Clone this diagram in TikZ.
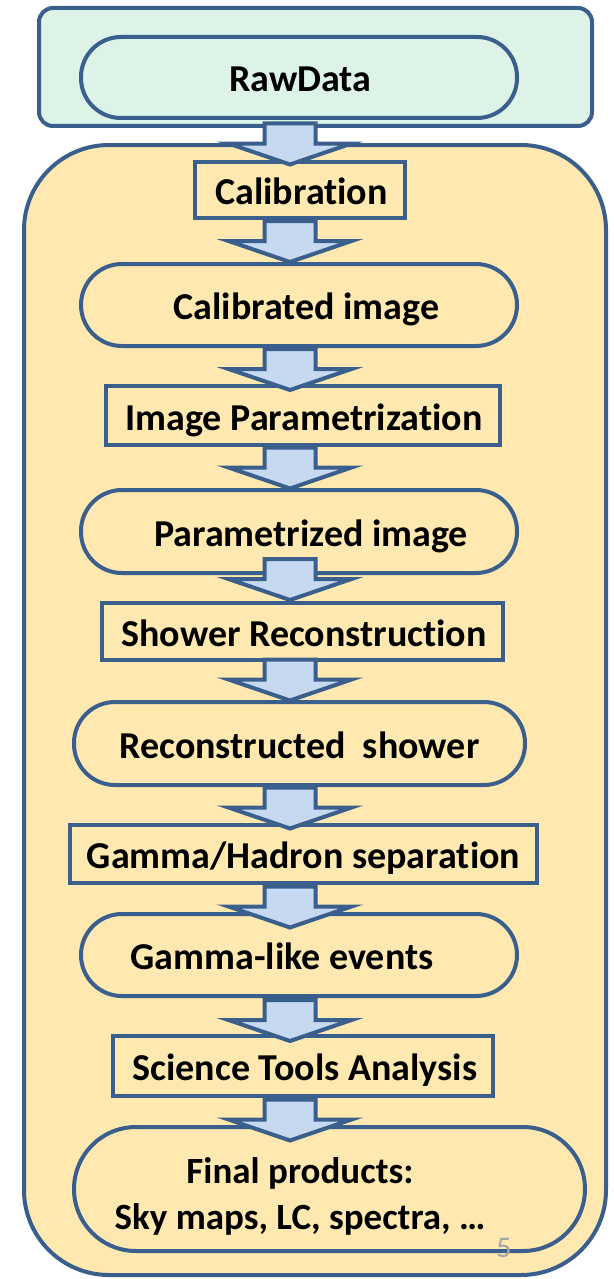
\documentclass[tikz,border=0pt]{standalone}
\usepackage{fontspec}
\setmainfont{Carlito}[Ligatures=NoCommon]
\usetikzlibrary{calc}

\definecolor{edge}{HTML}{3B5F8C}
\definecolor{stagefill}{HTML}{FFE9B0}
\definecolor{inputfill}{HTML}{DDF3E7}
\definecolor{arrowfill}{HTML}{C6D9F1}
\definecolor{pagegray}{HTML}{A6A6A6}

\tikzset{
  box/.style={draw=edge, line width=4pt, fill=stagefill, inner sep=0pt, rectangle},
  stepbox/.style={box},
  pill/.style={box, rounded corners=#1},
  lbl/.style={font=\bfseries\fontsize{38}{42}\selectfont, text=black, inner sep=0pt,
    text height=24pt, text depth=0pt, yshift=-2.5pt},
  flow/.style={draw=edge, line width=4pt, fill=arrowfill, line join=miter},
}

% x position of the block arrows
\def\arrx{290pt}
% block arrow between two stages; optional argument moves it down (in px)
\newcommand\flowarrow[3][0]{%
  \path[flow] let \p1=($(#2.south)!0.5!(#3.north)+(0,#1)$) in
    ({\arrx-25.5pt},{\y1+20pt}) -- ({\arrx+25.5pt},{\y1+20pt})
    -- ({\arrx+25.5pt},\y1) -- ({\arrx+61.5pt},\y1)
    -- (\arrx,{\y1-21pt}) -- ({\arrx-61.5pt},\y1)
    -- ({\arrx-25.5pt},\y1) -- cycle;}

\begin{document}
\begin{tikzpicture}[x=1pt,y=-1pt]
\useasboundingbox (0,0) rectangle (613,1279);

% containers
\node[box, fill=inputfill, rounded corners=14pt, minimum width=553pt, minimum height=118pt]
  (input) at (315.5,67) {};
\node[box, rounded corners=85pt, minimum width=582pt, minimum height=1130pt]
  (stages) at (315,710) {};

% stages
\node[pill=40pt, fill=inputfill, minimum width=436pt, minimum height=81pt,
  label={[lbl, xshift=1.5pt]center:RawData}] (raw) at (299,77.5) {};
\node[stepbox, minimum width=210pt, minimum height=56pt,
  label={[lbl, xshift=1.5pt]center:Calibration}] (calib) at (300,190) {};
\node[pill=41pt, minimum width=436pt, minimum height=82pt,
  label={[lbl, xshift=7.5pt]center:Calibrated image}] (calimg) at (299,305) {};
\node[stepbox, minimum width=394pt, minimum height=59pt,
  label={[lbl, xshift=1pt]center:Image Parametrization}] (param) at (303,415.5) {};
\node[pill=41pt, minimum width=436pt, minimum height=83pt,
  label={[lbl, xshift=12pt]center:Parametrized image}] (parimg) at (299,531.5) {};
\node[stepbox, minimum width=401pt, minimum height=57pt,
  label={[lbl, xshift=1.5pt]center:Shower Reconstruction}] (reco) at (302.5,631.5) {};
\node[pill=41pt, minimum width=451pt, minimum height=83pt,
  label={[lbl]center:Reconstructed\hspace{0.45em}shower}] (shower) at (299.5,743.5) {};
\node[stepbox, minimum width=467pt, minimum height=58pt,
  label={[lbl]center:Gamma/Hadron separation}] (gh) at (303.5,854) {};
\node[pill=41pt, minimum width=436pt, minimum height=82pt,
  label={[lbl, xshift=-17pt]center:Gamma-like events}] (gamma) at (299,955) {};
\node[stepbox, minimum width=380pt, minimum height=60pt,
  label={[lbl, xshift=2pt]center:Science Tools Analysis}] (sci) at (303,1066) {};
\node[pill=62pt, minimum width=511pt, minimum height=124pt,
  label={[font=\bfseries\fontsize{37}{46}\selectfont, inner sep=0pt, align=center,
    xshift=-29.5pt, yshift=-7pt]center:Final products:\\Sky maps, LC, spectra, …}]
  (final) at (329.5,1189) {};

% page number
\node[text=pagegray, font=\fontsize{30}{32}\selectfont, inner sep=0pt] (page) at (504,1248) {5};

% block arrows
\flowarrow[3.5]{raw}{calib}
\flowarrow{calib}{calimg}
\flowarrow[3]{calimg}{param}
\flowarrow{param}{parimg}
\flowarrow[-9]{parimg}{reco}
\flowarrow[-1.5]{reco}{shower}
\flowarrow[2.5]{shower}{gh}
\flowarrow[8]{gh}{gamma}
\flowarrow[4]{gamma}{sci}
\flowarrow[8]{sci}{final}
\end{tikzpicture}
\end{document}
